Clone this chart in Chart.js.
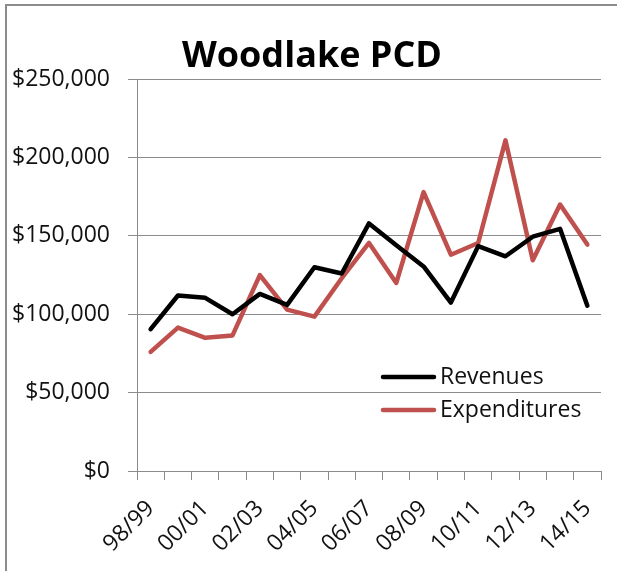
<!DOCTYPE html>
<html>
<head>
<meta charset="utf-8">
<title>Woodlake PCD</title>
<script src="https://cdn.jsdelivr.net/npm/chart.js@4.4.0/dist/chart.umd.min.js"></script>
<style>
  html, body { margin: 0; padding: 0; background: #fff; }
  #wrap { position: relative; width: 617px; height: 571px; overflow: hidden; }
  .frame {
    position: absolute; left: 5px; top: 4px; width: 640px; height: 600px;
    border-left: 2px solid #8c8c8c; border-top: 2px solid #8c8c8c;
  }
  canvas { position: absolute; left: 0; top: 0; }
</style>
</head>
<body>
<div id="wrap">
  <div class="frame"></div>
  <canvas id="chart" width="617" height="571"></canvas>
</div>
<script>
// fiscal years, every other one gets a label on the axis
const years = ['98/99', '99/00', '00/01', '01/02', '02/03', '03/04', '04/05', '05/06', '06/07',
  '07/08', '08/09', '09/10', '10/11', '11/12', '12/13', '13/14', '14/15'];

const revenues = [90500, 112000, 110500, 100000, 113000, 106000, 130000, 126000, 158000,
  144000, 130500, 107500, 143500, 137000, 149500, 154500, 105500];

const expenditures = [76000, 91500, 85000, 86500, 125000, 103000, 98500, 123000, 145500,
  120000, 178000, 138000, 145500, 211000, 134500, 170000, 144500];

const yTicks = [0, 50000, 100000, 150000, 200000, 250000];

const gridColor = '#8c8c8c';
const textColor = '#111';
const tickFont = { family: 'Open Sans', size: 23 };

// legend sits inside the plot, lower right
const insideLegend = {
  id: 'insideLegend',
  afterDatasetsDraw(chart) {
    const { ctx, chartArea } = chart;
    const rows = [94, 61];
    const x0 = chartArea.right - 220;
    ctx.save();
    ctx.font = '23px "Open Sans"';
    ctx.textBaseline = 'middle';
    chart.data.datasets.forEach((ds, i) => {
      const y = chartArea.bottom - rows[i];
      ctx.strokeStyle = ds.borderColor;
      ctx.lineWidth = ds.borderWidth;
      ctx.lineCap = 'round';
      ctx.beginPath();
      ctx.moveTo(x0 + 2, y);
      ctx.lineTo(x0 + 53, y);
      ctx.stroke();
      ctx.fillStyle = textColor;
      ctx.fillText(ds.label, x0 + 59, y);
    });
    ctx.restore();
  }
};

// centre the heading over the whole frame rather than the padded box
const titleSpan = {
  id: 'titleSpan',
  afterLayout(chart) {
    chart.titleBlock.left = 7;
    chart.titleBlock.right = chart.width;
  }
};

new Chart(document.getElementById('chart'), {
  type: 'line',
  data: {
    labels: years,
    datasets: [
      {
        label: 'Revenues',
        data: revenues,
        borderColor: '#000000',
        borderWidth: 4.5,
        pointRadius: 0,
        tension: 0,
        borderJoinStyle: 'round',
        borderCapStyle: 'round'
      },
      {
        label: 'Expenditures',
        data: expenditures,
        borderColor: '#c0504d',
        borderWidth: 4.5,
        pointRadius: 0,
        tension: 0,
        borderJoinStyle: 'round',
        borderCapStyle: 'round'
      }
    ]
  },
  options: {
    responsive: false,
    animation: false,
    layout: { padding: { left: 7, right: 16, top: 0, bottom: 0 } },
    plugins: {
      legend: { display: false },
      tooltip: { enabled: false },
      title: {
        display: true,
        text: 'Woodlake PCD',
        color: '#000',
        font: { family: 'Open Sans', size: 36, weight: 'bold', lineHeight: 1.2 },
        padding: { top: 35, bottom: 1 }
      }
    },
    scales: {
      x: {
        offset: true,
        grid: { offset: true, drawOnChartArea: false, tickLength: 9, color: gridColor },
        border: { color: gridColor },
        ticks: {
          autoSkip: false,
          minRotation: 45,
          maxRotation: 45,
          padding: 15,
          color: textColor,
          font: tickFont,
          callback: (v, i) => (i % 2 === 0 ? years[i] : '')
        },
        // rotated labels end at their tick, so no side room is needed
        afterFit: (s) => {
          s.height = 100;
          s.paddingLeft = 0;
          s.paddingRight = 0;
        }
      },
      y: {
        min: 0,
        max: 250000,
        grid: { color: gridColor, tickLength: 9 },
        border: { color: gridColor },
        afterBuildTicks: (s) => { s.ticks = yTicks.map((v) => ({ value: v })); },
        ticks: {
          padding: 18,
          color: textColor,
          font: tickFont,
          callback: (v) => '$' + v.toLocaleString('en-US')
        },
        afterFit: (s) => { s.width = 130; }
      }
    }
  },
  plugins: [insideLegend, titleSpan]
});
</script>
</body>
</html>
